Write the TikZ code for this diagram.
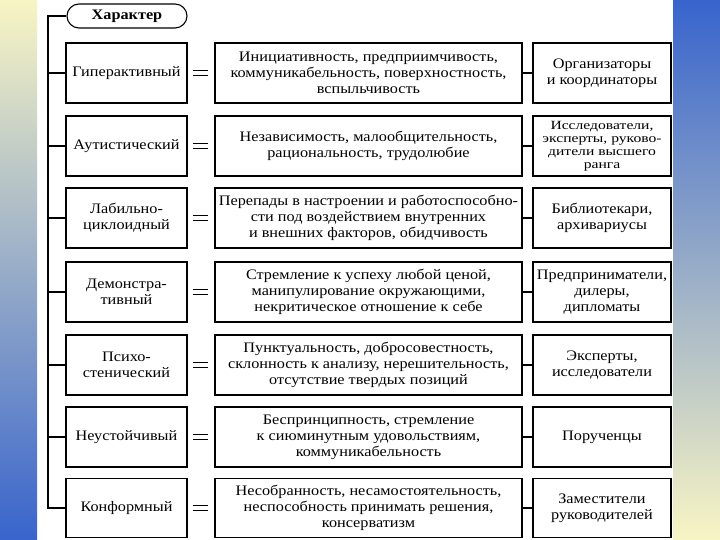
\documentclass[tikz,border=0pt]{standalone}
\usepackage{fontspec}
\setmainfont{Liberation Serif}[FakeStretch=1.12]
\newfontfamily\widefont{Liberation Serif}[FakeStretch=1.25]
\definecolor{bgblue}{RGB}{56,100,204}
\definecolor{bgyellow}{RGB}{248,245,196}
\definecolor{bgmid}{RGB}{168,186,212}
\begin{document}
\begin{tikzpicture}[x=1pt,y=-1pt,
  box/.style={draw=black, line width=1.1pt, align=center, inner sep=0pt,
    font=\fontsize{14.5}{16}\selectfont, minimum height=60pt},
  lbox/.style={box, minimum width=121pt},
  mbox/.style={box, minimum width=307pt},
  rbox/.style={box, minimum width=138pt},
  eqsign/.style={draw=black, line width=1.1pt, double=white, double distance=4.4pt,
    shorten <=5pt, shorten >=6pt},
  link/.style={draw=black, line width=1.1pt}]
\path[use as bounding box] (0,0) rectangle (720,540);
% background
\fill[white] (37,0) rectangle (673,540);
\shade[top color=bgyellow, middle color=bgmid, bottom color=bgblue] (0,0) rectangle (37,540);
\shade[top color=bgblue, middle color=bgmid, bottom color=bgyellow] (673,0) rectangle (720,540);

% title
\node[draw=black, line width=1.1pt, rounded corners=12pt, minimum width=120pt,
  minimum height=24pt, inner sep=0pt, font=\bfseries\fontsize{14.5}{16}\selectfont]
  (t) at (127,16) {Характер};

% left boxes
\node[lbox] (l1) at (126.5,73)  {Гиперактивный};
\node[lbox] (l2) at (126.5,146) {Аутистический};
\node[lbox] (l3) at (126.5,218) {Лабильно-\\циклоидный};
\node[lbox] (l4) at (126.5,292) {Демонстра-\\тивный};
\node[lbox] (l5) at (126.5,365) {Психо-\\стенический};
\node[lbox] (l6) at (126.5,437) {Неустойчивый};
\node[lbox, minimum height=59pt] (l7) at (126.5,508) {Конформный};

% middle boxes
\node[mbox] (m1) at (368.5,73)  {Инициативность, предприимчивость,\\коммуникабельность, поверхностность,\\вспыльчивость};
\node[mbox] (m2) at (368.5,146) {Независимость, малообщительность,\\рациональность, трудолюбие};
\node[mbox] (m3) at (368.5,218) {Перепады в настроении и работоспособно-\\сти под воздействием внутренних\\и внешних факторов, обидчивость};
\node[mbox] (m4) at (368.5,292) {Стремление к успеху любой ценой,\\манипулирование окружающими,\\некритическое отношение к себе};
\node[mbox] (m5) at (368.5,365) {Пунктуальность, добросовестность,\\склонность к анализу, нерешительность,\\отсутствие твердых позиций};
\node[mbox] (m6) at (368.5,437) {Беспринципность, стремление\\к сиюминутным удовольствиям,\\коммуникабельность};
\node[mbox, minimum height=59pt] (m7) at (368.5,508) {Несобранность, несамостоятельность,\\неспособность принимать решения,\\консерватизм};

% right boxes
\node[rbox] (r1) at (602,73)  {Организаторы\\и координаторы};
\node[rbox, font=\widefont\fontsize{12.5}{13}\selectfont] (r2) at (602,146) {Исследователи,\\эксперты, руково-\\дители высшего\\ранга};
\node[rbox] (r3) at (602,218) {Библиотекари,\\архивариусы};
\node[rbox] (r4) at (602,292) {Предприниматели,\\дилеры,\\дипломаты};
\node[rbox] (r5) at (602,365) {Эксперты,\\исследователи};
\node[rbox] (r6) at (602,437) {Порученцы};
\node[rbox, minimum height=59pt] (r7) at (602,508) {Заместители\\руководителей};

% trunk
\coordinate (trunktop) at (48,16);
\coordinate (trunkbot) at (48,508);
\draw[link] (t.west) -- (trunktop) -- (trunkbot) -- (l7.west);
\foreach \i in {1,...,6}{
  \draw[link] (l\i.west) -- (l\i.west -| trunktop);
}

% equals signs and links
\foreach \i in {1,...,7}{
  \draw[eqsign] (l\i.east) -- (m\i.west);
  \draw[link] (m\i.east) -- (r\i.west);
}
\end{tikzpicture}
\end{document}
